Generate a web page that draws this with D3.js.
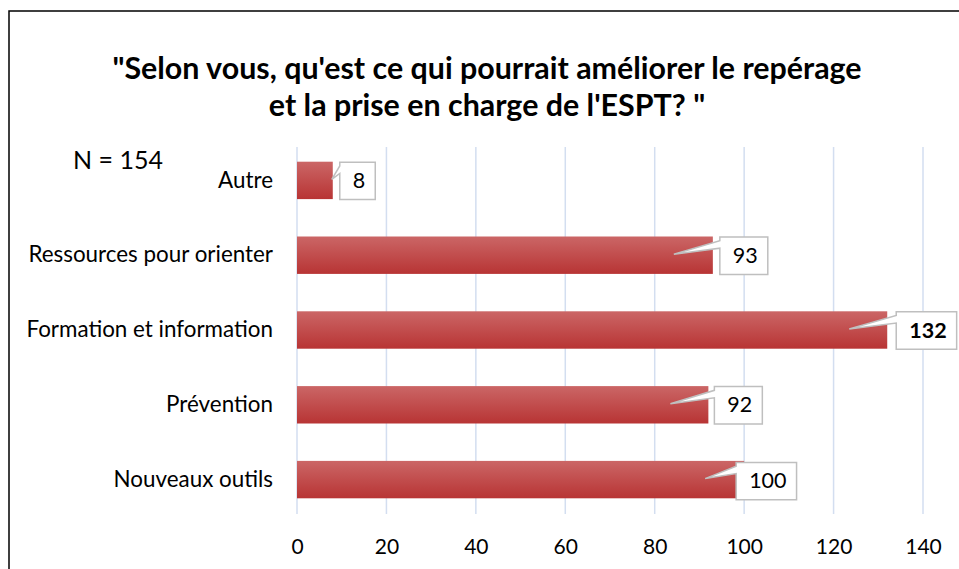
<!DOCTYPE html>
<html><head><meta charset="utf-8">
<script src="https://cdn.jsdelivr.net/npm/d3@7"></script>
<style>
body{margin:0;background:#fff;}
svg text{font-family:Lato,"Open Sans",sans-serif;}
</style></head>
<body><svg id="c" width="959" height="569"></svg>
<script>
const categories = ["Autre","Ressources pour orienter","Formation et information","Prévention","Nouveaux outils"];
const values = [8, 93, 132, 92, 100];
const boldLabel = [false, false, true, false, false];
const tickValues = [0,20,40,60,80,100,120,140];
const titleLines = ["\"Selon vous, qu'est ce qui pourrait améliorer le repérage", "et la prise en charge de l'ESPT? \""];
const noteText = "N = 154";
// layout (not data): callout offsets relative to bar end
const calloutLayout = [{box:7, tip:-1, dy:0},{box:7, tip:-39, dy:0},{box:9, tip:-38, dy:0},{box:6, tip:-38, dy:0},{box:-8, tip:-39, dy:1}];

const svg = d3.select("#c");
const W = 959, H = 569;
svg.append("rect").attr("x",0).attr("y",0).attr("width",W).attr("height",H).attr("fill","#fff");
// outer border
svg.append("rect").attr("x",9).attr("y",11).attr("width",W+20).attr("height",H+20)
  .attr("fill","none").attr("stroke","#000").attr("stroke-width",1.5);

const defs = svg.append("defs");
const g1 = defs.append("linearGradient").attr("id","barG").attr("x1",0).attr("y1",0).attr("x2",0).attr("y2",1);
g1.append("stop").attr("offset","0%").attr("stop-color","#cb6666");
g1.append("stop").attr("offset","100%").attr("stop-color","#b83434");

const x = d3.scaleLinear().domain([0,140]).range([297,923]);
const y = d3.scaleBand().domain(categories).range([143,517]).paddingInner(0.5).paddingOuter(0.25);

// gridlines
svg.append("g").selectAll("line").data(tickValues).join("line")
  .attr("x1",d=>x(d)).attr("x2",d=>x(d)).attr("y1",147).attr("y2",514)
  .attr("stroke","#d3def0").attr("stroke-width",1.5);

// x axis labels
const xa = svg.append("g").attr("transform","translate(0,514)")
  .call(d3.axisBottom(x).tickValues(tickValues).tickSize(0).tickPadding(25).tickFormat(d3.format("d")));
xa.select(".domain").remove();
xa.selectAll("text").attr("font-size",21).attr("fill","#000").style("font-family","Lato,sans-serif");

// y axis labels
const ya = svg.append("g").attr("transform","translate(297,0)")
  .call(d3.axisLeft(y).tickSize(0).tickPadding(24));
ya.select(".domain").remove();
ya.selectAll("text").attr("font-size",22.4).attr("fill","#000").style("font-family","Lato,sans-serif");

// bars
svg.append("g").selectAll("rect").data(categories).join("rect")
  .attr("x",x(0)).attr("y",d=>y(d)).attr("height",y.bandwidth())
  .attr("width",(d,i)=>x(values[i])-x(0)).attr("fill","url(#barG)");

// callouts
const cg = svg.append("g");
categories.forEach((c,i)=>{
  const end = x(values[i]);
  const lay = calloutLayout[i];
  const bh = y.bandwidth();
  const y0 = y(c) + lay.dy, cy = y(c) + bh/2;
  const t = cg.append("text").attr("font-size",21.5).attr("font-weight",boldLabel[i]?"bold":"normal")
    .attr("fill","#000").text(values[i]);
  const tw = t.node().getComputedTextLength();
  const bx = end + lay.box, bw = tw + 23, by = y0 + 0.5, bhh = bh;
  const tx = end + lay.tip, ty = cy - 1;
  const a1 = by + bhh*0.1, a2 = by + bhh*0.3;
  const p = `M${bx},${by} L${bx+bw},${by} L${bx+bw},${by+bhh} L${bx},${by+bhh} L${bx},${a2} L${tx},${ty} L${bx},${a1} Z`;
  cg.insert("path","text").attr("d",p).attr("fill","#fff").attr("stroke","#bfbfbf").attr("stroke-width",1.5);
  t.attr("x",bx+13).attr("y",y0 + bh/2 + 7.5);
});
cg.selectAll("text").raise();

// title
svg.append("g").selectAll("text").data(titleLines).join("text")
  .attr("x",487).attr("y",(d,i)=>79+i*37).attr("text-anchor","middle")
  .attr("font-size",30.4).attr("font-weight","bold").attr("fill","#000").text(d=>d);

svg.append("text").attr("x",73).attr("y",169).attr("font-size",25).attr("fill","#000").text(noteText);
</script></body></html>
